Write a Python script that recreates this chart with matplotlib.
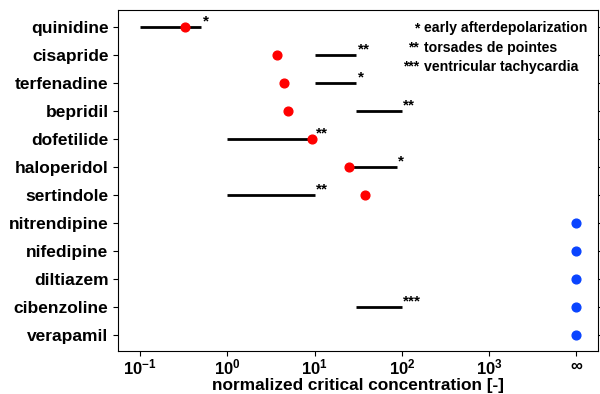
import matplotlib
matplotlib.use("Agg")
import matplotlib.pyplot as plt
import numpy as np

plt.rcParams['font.family'] = ['Liberation Sans', 'DejaVu Sans']
plt.rcParams['font.weight'] = 'bold'
plt.rcParams['mathtext.fontset'] = 'custom'
plt.rcParams['mathtext.rm'] = 'Liberation Sans:bold'
plt.rcParams['mathtext.default'] = 'rm'

# drugs, top to bottom
drugs = ["quinidine", "cisapride", "terfenadine", "bepridil", "dofetilide",
         "haloperidol", "sertindole", "nitrendipine", "nifedipine",
         "diltiazem", "cibenzoline", "verapamil"]

INF = 1e4  # where "infinity" sits on the axis

# normalized critical concentration (None = no arrhythmia, plotted at inf)
crit = [0.33, 3.7, 4.5, 5.0, 9.2, 25.0, 38.0, None, None, None, None, None]

# clinical ranges (low, high) and risk markers
range_lo = [0.1, 10, 10, 30, 1, 25, 1, None, None, None, 30, None]
range_hi = [0.5, 30, 30, 100, 10, 87, 10, None, None, None, 100, None]
risk = ["*", "**", "*", "**", "**", "*", "**", "", "", "", "***", ""]

legend_marks = ["*", "**", "***"]
legend_texts = ["early afterdepolarization", "torsades de pointes",
                "ventricular tachycardia"]

fig, ax = plt.subplots(figsize=(6.0, 3.94), dpi=100)
fig.subplots_adjust(left=0.197, right=0.996, top=0.975, bottom=0.11)

y = np.arange(len(drugs))

for i in range(len(drugs)):
    if range_lo[i] is not None:
        ax.plot([range_lo[i], range_hi[i]], [i, i], color="black", lw=2.0,
                solid_capstyle="butt", zorder=2)
        ax.annotate(risk[i], (range_hi[i], i), xytext=(1, -1),
                    textcoords="offset points", ha="left", va="bottom",
                    fontsize=11, fontweight="bold")
    if crit[i] is not None:
        ax.plot(crit[i], i, "o", color="#ff0000", ms=6.3, zorder=3)
    else:
        ax.plot(INF, i, "o", color="#0a44ff", ms=6.3, zorder=3)

for k, (m, t) in enumerate(zip(legend_marks, legend_texts)):
    yy = 0.966 - k * 0.056
    ax.text(0.628, yy, m, transform=ax.transAxes, ha="right", va="top",
            fontsize=10, fontweight="bold")
    ax.text(0.638, yy, t, transform=ax.transAxes, ha="left", va="top",
            fontsize=10.2, fontweight="bold")

ax.set_xscale("log")
ax.set_xlim(0.056, 17500)
ax.set_ylim(len(drugs) - 0.45, -0.6)

ax.set_xticks([0.1, 1, 10, 100, 1000, INF])
ax.set_xticklabels(["$10^{-1}$", "$10^{0}$", "$10^{1}$", "$10^{2}$",
                    "$10^{3}$", "$\\infty$"], fontsize=12)
ax.xaxis.set_minor_locator(matplotlib.ticker.NullLocator())
ax.tick_params(axis="x", pad=1.5)

ax.set_yticks(y)
ax.set_yticklabels(drugs, fontsize=12.5, fontweight="bold")
ax.tick_params(axis="y", right=True, direction="out")

for lab in ax.get_xticklabels():
    lab.set_fontweight("bold")

ax.set_xlabel("normalized critical concentration [-]", fontsize=12.4,
              fontweight="bold", labelpad=0)

plt.savefig("out.png", dpi=100)
